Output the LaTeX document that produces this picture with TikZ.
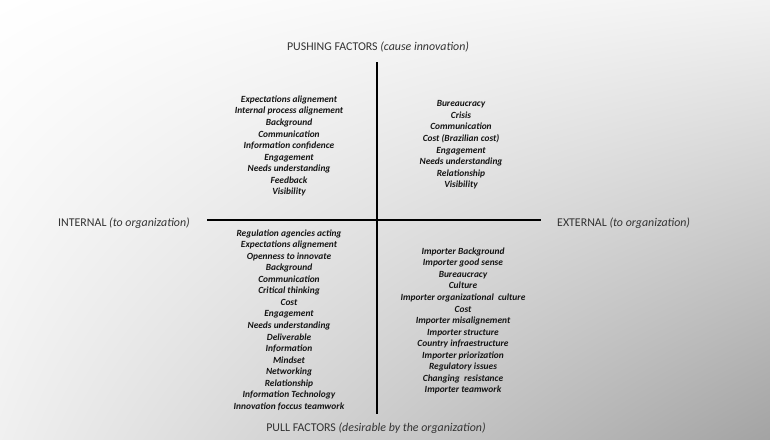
\documentclass[tikz,border=0pt]{standalone}
\usepackage{fontspec}
\setmainfont{Carlito}
\usetikzlibrary{shadings}
\begin{document}
\begin{tikzpicture}[x=1pt,y=-1pt,
  axisline/.style={line width=2.6pt, black},
  biglabel/.style={font=\fontsize{11.9}{13}\selectfont, text=black!80, inner sep=0pt},
  factorlist/.style={font=\fontsize{9.4}{11.55}\selectfont\bfseries\itshape, text=black!92, align=center, inner sep=0pt}]
\shade[upper left=white, upper right=black!5, lower left=black!6, lower right=black!36] (0,0) rectangle (770,439);
\useasboundingbox (0,0) rectangle (770,439);
\coordinate (vtop) at (377,62);
\coordinate (vbot) at (377,414);
\coordinate (hleft) at (207,220);
\coordinate (hright) at (541,220);
\draw[axisline] (vtop) -- (vbot);
\draw[axisline] (hleft) -- (hright);
\node[biglabel] (push) at (378,47) {PUSHING FACTORS \textit{(cause innovation)}};
\node[biglabel] (pull) at (376,428) {PULL FACTORS \textit{(desirable by the organization)}};
\node[biglabel, anchor=east] (internal) at (190,223) {INTERNAL \textit{(to organization)}};
\node[biglabel, anchor=west] (external) at (557,223) {EXTERNAL \textit{(to organization)}};
\node[factorlist] (tl) at (289,146) {Expectations alignement\\Internal process alignement\\Background\\Communication\\Information confidence\\Engagement\\Needs understanding\\Feedback\\Visibility};
\node[factorlist] (tr) at (461,145) {Bureaucracy\\Crisis\\Communication\\Cost (Brazilian cost)\\Engagement\\Needs understanding\\Relationship\\Visibility};
\node[factorlist] (bl) at (289,320) {Regulation agencies acting\\Expectations alignement\\Openness to innovate\\Background\\Communication\\Critical thinking\\Cost\\Engagement\\Needs understanding\\Deliverable\\Information\\Mindset\\Networking\\Relationship\\Information Technology\\Innovation foccus teamwork};
\node[factorlist] (br) at (463,321) {Importer Background\\Importer good sense\\Bureaucracy\\Culture\\Importer organizational\ \ culture\\Cost\\Importer misalignement\\Importer structure\\Country infraestructure\\Importer priorization\\Regulatory issues\\Changing\ \ resistance\\Importer teamwork};
\end{tikzpicture}
\end{document}
